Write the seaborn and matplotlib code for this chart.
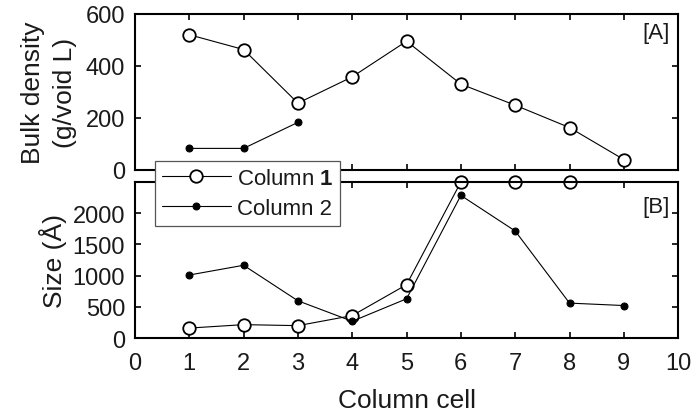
import numpy as np
import pandas as pd
import matplotlib
matplotlib.use("Agg")
import matplotlib.pyplot as plt
import seaborn as sns

sns.set_style("ticks")
plt.rcParams['font.family'] = ['Liberation Sans', 'DejaVu Sans']
plt.rcParams['mathtext.fontset'] = 'custom'
plt.rcParams['mathtext.bf'] = 'Liberation Sans:bold'
plt.rcParams['mathtext.rm'] = 'Liberation Sans'

# Panel A: bulk density (g/void L)
cells_a1 = [1, 2, 3, 4, 5, 6, 7, 8, 9]
density_col1 = [520, 463, 257, 358, 495, 330, 249, 163, 40]
cells_a2 = [1, 2, 3]
density_col2 = [83, 83, 183]

# Panel B: size (Å)
cells_b1 = [1, 2, 3, 4, 5, 6, 7, 8]
size_col1 = [160, 215, 199, 360, 855, 2500, 2500, 2500]
cells_b2 = [1, 2, 3, 4, 5, 6, 7, 8, 9]
size_col2 = [1010, 1166, 597, 269, 629, 2285, 1715, 560, 521]

xticks = [0, 1, 2, 3, 4, 5, 6, 7, 8, 9, 10]

TXT = '#1a1a1a'
fig = plt.figure(figsize=(6.92, 4.14), dpi=100)
axA = fig.add_axes([0.195, 0.587, 0.785, 0.377])
axB = fig.add_axes([0.195, 0.181, 0.785, 0.377])

open_kw = dict(color='black', marker='o', markersize=9, markerfacecolor='white',
               markeredgecolor='black', markeredgewidth=1.3, linewidth=0.8, clip_on=False)
fill_kw = dict(color='black', marker='o', markersize=5, markerfacecolor='black',
               markeredgecolor='black', linewidth=0.8, clip_on=False)

sns.lineplot(x=cells_a1, y=density_col1, ax=axA, **open_kw)
sns.lineplot(x=cells_a2, y=density_col2, ax=axA, **fill_kw)
sns.lineplot(x=cells_b1, y=size_col1, ax=axB, label='Column $\\mathbf{1}$', **open_kw)
sns.lineplot(x=cells_b2, y=size_col2, ax=axB, label='Column 2', **fill_kw)
axB.get_legend().remove()

for ax in (axA, axB):
    ax.set_xlim(0, 10)
    ax.set_xticks(xticks)
    ax.tick_params(direction='in', top=True, right=True, length=4, width=1.2,
                   labelsize=17, colors='black', labelcolor=TXT, pad=7)
    for s in ax.spines.values():
        s.set_linewidth(1.5)
        s.set_color('black')
    ax.set_facecolor('white')
axB.tick_params(axis='x', pad=10)

axA.set_ylim(0, 600)
axA.set_yticks([0, 200, 400, 600])
axA.tick_params(labelbottom=False)
axA.set_ylabel('Bulk density\n(g/void L)', fontsize=19, linespacing=1.45, labelpad=6, color=TXT)
axA.set_xlabel('')
axA.text(0.985, 0.95, '[A]', transform=axA.transAxes, ha='right', va='top', fontsize=16, color=TXT)

axB.set_ylim(0, 2500)
axB.set_yticks([0, 500, 1000, 1500, 2000])
axB.set_ylabel('Size (Å)', fontsize=19, labelpad=4, color=TXT)
axB.set_xlabel('Column cell', fontsize=19, labelpad=10, color=TXT)
axB.text(0.985, 0.91, '[B]', transform=axB.transAxes, ha='right', va='top', fontsize=16, color=TXT)

handles, labels = axB.get_legend_handles_labels()
leg = fig.legend(handles, labels, loc='upper left', bbox_to_anchor=(0.224, 0.608),
                 bbox_transform=fig.transFigure, fontsize=16, frameon=True, fancybox=False,
                 handlelength=3.1, borderpad=0.3, labelspacing=0.4, handletextpad=0.3,
                 borderaxespad=0)
for t in leg.get_texts():
    t.set_color(TXT)
leg.get_frame().set_edgecolor('#555555')
leg.get_frame().set_linewidth(0.9)
leg.get_frame().set_alpha(1)

fig.savefig('out.png', dpi=100, facecolor='white')
